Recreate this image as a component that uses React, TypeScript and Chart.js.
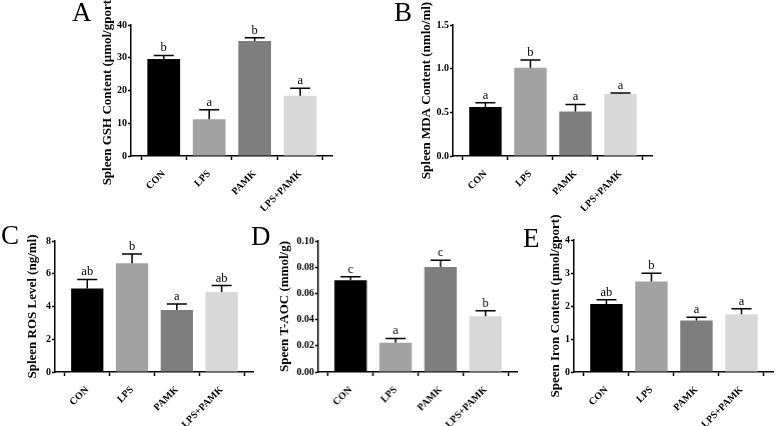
import React, { useEffect, useRef } from "react";
import { Chart, registerables } from "chart.js";

Chart.register(...registerables);

const SERIF = "'Liberation Serif', 'Times New Roman', serif";

// Groups (x categories) and bar colours
const groups = ["CON", "LPS", "PAMK", "LPS+PAMK"];
const barColors = ["#000000", "#a2a2a2", "#7e7e7e", "#d8d8d8"];

// A: Spleen GSH
const gshMean = [29.6, 11.2, 35.1, 18.4];
const gshErr = [1.1, 2.9, 1.0, 2.3];
const gshLetters = ["b", "a", "b", "a"];
const gshTicks = ["0", "10", "20", "30", "40"];

// B: Spleen MDA
const mdaMean = [0.56, 1.01, 0.51, 0.71];
const mdaErr = [0.05, 0.09, 0.08, 0.01];
const mdaLetters = ["a", "b", "a", "a"];
const mdaTicks = ["0.0", "0.5", "1.0", "1.5"];

// C: Spleen ROS
const rosMean = [5.1, 6.64, 3.79, 4.88];
const rosErr = [0.55, 0.56, 0.36, 0.4];
const rosLetters = ["ab", "b", "a", "ab"];
const rosTicks = ["0", "2", "4", "6", "8"];

// D: T-AOC
const aocMean = [0.07, 0.0223, 0.0802, 0.0426];
const aocErr = [0.0028, 0.0033, 0.0051, 0.0041];
const aocLetters = ["c", "a", "c", "b"];
const aocTicks = ["0.00", "0.02", "0.04", "0.06", "0.08", "0.10"];

// E: Iron
const ironMean = [2.06, 2.74, 1.56, 1.75];
const ironErr = [0.13, 0.25, 0.1, 0.17];
const ironLetters = ["ab", "b", "a", "a"];
const ironTicks = ["0", "1", "2", "3", "4"];

type Panel = {
  key: string;
  title: string;
  mean: number[];
  err: number[];
  letters: string[];
  ticks: string[];
  area: { l: number; r: number; t: number; b: number };
  titleX: number;
  pr: number;
  tag: { x: number; y: number };
};

const panels: Panel[] = [
  { key: "A", title: "Spleen GSH Content (μmol/gport)", mean: gshMean, err: gshErr, letters: gshLetters, ticks: gshTicks,
    area: { l: 131, r: 332, t: 25, b: 156 }, titleX: 108, pr: 8, tag: { x: 72, y: -0.7 } },
  { key: "B", title: "Spleen MDA Content (nmlo/ml)", mean: mdaMean, err: mdaErr, letters: mdaLetters, ticks: mdaTicks,
    area: { l: 453, r: 652, t: 24.5, b: 156 }, titleX: 426.5, pr: 8, tag: { x: 394, y: -0.7 } },
  { key: "C", title: "Spleen ROS Level (ng/ml)", mean: rosMean, err: rosErr, letters: rosLetters, ticks: rosTicks,
    area: { l: 55, r: 253, t: 240.7, b: 372.3 }, titleX: 33, pr: 6, tag: { x: 1, y: 222.3 } },
  { key: "D", title: "Speen T-AOC (mmol/g)", mean: aocMean, err: aocErr, letters: aocLetters, ticks: aocTicks,
    area: { l: 318.3, r: 517, t: 241, b: 372.3 }, titleX: 285, pr: 6, tag: { x: 251, y: 222.6 } },
  { key: "E", title: "Speen Iron Content (μmol/gport)", mean: ironMean, err: ironErr, letters: ironLetters, ticks: ironTicks,
    area: { l: 574, r: 773, t: 240, b: 372.3 }, titleX: 556, pr: 4, tag: { x: 523, y: 224.6 } },
];

const YW = 50;
const PT = 34;
const XH = 55;
const TITLE_SIZE = 13;

function PanelChart({ p }: { p: Panel }) {
  const ref = useRef<HTMLCanvasElement>(null);
  const left = p.area.l - YW;
  const top = p.area.t - PT;
  const width = YW + (p.area.r - p.area.l) + p.pr;
  const height = PT + (p.area.b - p.area.t) + XH;

  useEffect(() => {
    if (!ref.current) return;
    const tickVals = p.ticks.map((t) => parseFloat(t));
    const errPlugin = {
      id: "errLetters" + p.key,
      afterDatasetsDraw(chart: any) {
        const ctx = chart.ctx;
        const meta = chart.getDatasetMeta(0);
        const ys = chart.scales.y;
        ctx.save();
        ctx.strokeStyle = "#000";
        ctx.lineWidth = 1.5;
        ctx.fillStyle = "#000";
        ctx.font = `12.5px ${SERIF}`;
        ctx.textAlign = "center";
        ctx.textBaseline = "alphabetic";
        meta.data.forEach((bar: any, i: number) => {
          const x = bar.x;
          const y0 = ys.getPixelForValue(p.mean[i]);
          const y1 = ys.getPixelForValue(p.mean[i] + p.err[i]);
          ctx.beginPath();
          ctx.moveTo(x, y0);
          ctx.lineTo(x, y1);
          ctx.moveTo(x - 10, y1);
          ctx.lineTo(x + 10, y1);
          ctx.stroke();
          ctx.fillText(p.letters[i], x, y1 - 4);
        });
        ctx.restore();
      },
    };

    const tickFont = { family: SERIF, size: 10, weight: "bold" as const };
    const chart = new Chart(ref.current, {
      type: "bar",
      data: {
        datasets: [
          {
            data: p.mean.map((m, i) => ({ x: i, y: m })),
            backgroundColor: barColors,
            borderWidth: 0,
            barPercentage: 0.72,
            categoryPercentage: 1,
          },
        ],
      },
      options: {
        responsive: false,
        maintainAspectRatio: false,
        devicePixelRatio: 1,
        animation: false,
        layout: { padding: { left: 0, right: p.pr, top: PT, bottom: 0 } },
        plugins: { legend: { display: false }, tooltip: { enabled: false } },
        scales: {
          x: {
            type: "linear",
            min: -0.72,
            max: 3.7,
            offset: false,
            afterBuildTicks: (s: any) => {
              s.ticks = groups.map((_, i) => ({ value: i }));
            },
            afterFit: (s: any) => {
              s.height = XH;
            },
            ticks: {
              autoSkip: false,
              minRotation: 45,
              maxRotation: 45,
              padding: 8,
              color: "#000",
              font: tickFont,
              callback: (v: any) => groups[Math.round(v)] ?? "",
            },
            grid: { drawOnChartArea: false, drawTicks: true, tickLength: 4, tickColor: "#000", tickWidth: 1.5 },
            border: { display: true, color: "#000", width: 1.5 },
          },
          y: {
            min: tickVals[0],
            max: tickVals[tickVals.length - 1],
            afterBuildTicks: (s: any) => {
              s.ticks = tickVals.map((v) => ({ value: v }));
            },
            afterFit: (s: any) => {
              s.width = YW;
            },
            ticks: {
              autoSkip: false,
              padding: 1,
              color: "#000",
              font: tickFont,
              callback: (_v: any, idx: number) => p.ticks[idx],
            },
            grid: { drawOnChartArea: false, drawTicks: true, tickLength: 3, tickColor: "#000", tickWidth: 1.5 },
            border: { display: true, color: "#000", width: 1.5 },
            title: {
              display: true,
              text: p.title,
              color: "#000",
              font: { family: SERIF, size: TITLE_SIZE, weight: "bold" },
              padding: { top: p.titleX - left - TITLE_SIZE * 0.6, bottom: 0 },
            },
          },
        },
      } as any,
      plugins: [errPlugin],
    });
    return () => chart.destroy();
  }, []);

  return (
    <canvas
      ref={ref}
      width={width}
      height={height}
      style={{ position: "absolute", left, top, width, height }}
    />
  );
}

export default function App() {
  return (
    <div
      style={{
        position: "fixed",
        left: 0,
        top: 0,
        width: 777,
        height: 426,
        overflow: "hidden",
        background: "#ffffff",
      }}
    >
      {panels.map((p) => (
        <PanelChart key={p.key} p={p} />
      ))}
      {panels.map((p) => (
        <div
          key={"tag" + p.key}
          style={{
            position: "absolute",
            left: p.tag.x,
            top: p.tag.y,
            fontFamily: SERIF,
            fontSize: 27,
            lineHeight: "27px",
            color: "#000",
          }}
        >
          {p.key}
        </div>
      ))}
    </div>
  );
}
